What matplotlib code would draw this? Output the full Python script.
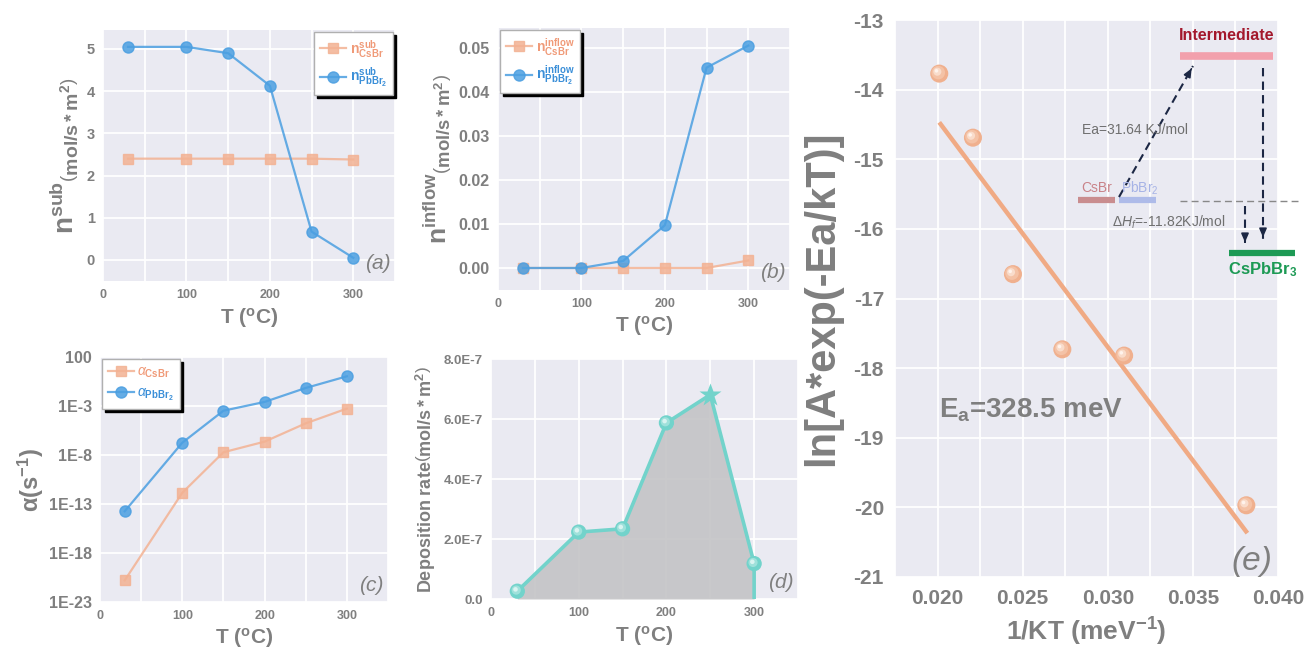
import numpy as np
import matplotlib
matplotlib.use("Agg")
import matplotlib.pyplot as plt
from matplotlib.transforms import offset_copy
from matplotlib.ticker import MultipleLocator, FuncFormatter, FixedLocator

# ---------------- data ----------------
T = [30, 100, 150, 200, 250, 300]
n_sub_CsBr = [2.40, 2.40, 2.40, 2.40, 2.40, 2.38]
n_sub_PbBr2 = [5.05, 5.05, 4.90, 4.13, 0.67, 0.05]
n_inflow_CsBr = [0.0, 0.0, 0.0, 0.0, 0.0, 0.0017]
n_inflow_PbBr2 = [0.0, 0.0, 0.0016, 0.0097, 0.0455, 0.0505]
alpha_CsBr = [1.6e-21, 1.4e-12, 1.9e-8, 2.3e-7, 1.7e-5, 5.4e-4]
alpha_PbBr2 = [1.8e-14, 1.8e-7, 3.3e-4, 2.6e-3, 6.9e-2, 1.07]
dep_rate = [2.6e-8, 2.23e-7, 2.34e-7, 5.87e-7, 6.81e-7, 1.18e-7]
inv_kT = [0.0201, 0.02208, 0.02443, 0.02733, 0.03096, 0.03814]
ln_rate = [-13.77, -14.69, -16.65, -17.73, -17.82, -19.97]
fit_x = [0.0201, 0.0382]
fit_y = [-14.47, -20.37]
alpha_ticks = [1e-23, 1e-18, 1e-13, 1e-8, 1e-3, 1e2]
alpha_ticklabels = ["1E-23", "1E-18", "1E-13", "1E-8", "1E-3", "100"]
dep_ticks = [0, 2e-7, 4e-7, 6e-7, 8e-7]
dep_ticklabels = ["0.0", "2.0E-7", "4.0E-7", "6.0E-7", "8.0E-7"]

# ---------------- style ----------------
plt.rcParams['font.family'] = ['Liberation Sans', 'DejaVu Sans']
plt.rcParams['mathtext.fontset'] = 'custom'
plt.rcParams['mathtext.rm'] = 'Liberation Sans'
plt.rcParams['mathtext.bf'] = 'Liberation Sans:bold'
plt.rcParams['mathtext.it'] = 'Liberation Sans:italic'
plt.rcParams['mathtext.sf'] = 'Liberation Sans'

GRAY = '#7f7f7f'
BG = '#eaeaf2'
ORANGE = '#f3b293'
ORANGE_T = '#f09a78'
BLUE = '#4b9fe1'
BLUE_T = '#3b8fd8'
TEAL = '#72d3cb'
SALMON = '#f0aa84'

W, H = 1306, 653
fig = plt.figure(figsize=(W / 100, H / 100), dpi=100)


def add_ax(l, r, t, b):
    return fig.add_axes([l / W, 1 - b / H, (r - l) / W, (b - t) / H])


def style(ax, xtick_size=9, ytick_size=10.5):
    ax.set_facecolor(BG)
    for s in ax.spines.values():
        s.set_visible(False)
    ax.grid(True, which='both', color='white', lw=1.3)
    ax.set_axisbelow(True)
    ax.tick_params(which='both', length=0, colors=GRAY)
    ax.tick_params(axis='x', labelsize=xtick_size, pad=6)
    ax.tick_params(axis='y', labelsize=ytick_size, pad=6)
    for lab in ax.get_xticklabels() + ax.get_yticklabels():
        lab.set_fontweight('bold')


def temp_xaxis(ax):
    ax.set_xlim(0, 350)
    ax.xaxis.set_major_locator(MultipleLocator(50))
    ax.xaxis.set_major_formatter(FuncFormatter(lambda v, p: f"{int(round(v))}" if round(v) % 100 == 0 and v < 349 else ""))
    ax.set_xlabel(r'T ($^{\mathbf{o}}$C)', fontsize=15, fontweight='bold', color=GRAY, labelpad=3)


def panel_label(ax, s, size=15, y=0.03):
    ax.text(0.985, y, s, transform=ax.transAxes, ha='right', va='bottom',
            fontsize=size, style='italic', color=GRAY)


def sphere(ax, x, y, size, base, layers, zorder=4):
    ax.scatter(x, y, s=size ** 2, color=base, zorder=zorder, edgecolors='none')
    for i, (frac, col, off) in enumerate(layers):
        tr = offset_copy(ax.transData, fig=fig, x=-off, y=off, units='points')
        ax.scatter(x, y, s=(size * frac) ** 2, color=col, zorder=zorder + 1 + i,
                   edgecolors='none', transform=tr)


def legend(ax, loc):
    leg = ax.legend(loc=loc, frameon=True, fancybox=False, framealpha=1,
                    edgecolor='#b0b0b0', shadow={'color': 'black', 'alpha': 1},
                    handlelength=1.9, borderpad=0.4, labelspacing=0.45, handletextpad=0.25,
                    borderaxespad=0.15, fontsize=10)
    cols = [ORANGE_T, BLUE_T]
    for t, c in zip(leg.get_texts(), cols):
        t.set_color(c)
    return leg


# ---------------- (a) ----------------
ax = add_ax(103, 395, 30, 281)
ax.plot(T, n_sub_CsBr, '-s', color=ORANGE, ms=6.5, lw=1.6, alpha=0.85,
        label=r'$\mathbf{n}^{\mathbf{sub}}_{\mathbf{CsBr}}$')
ax.plot(T, n_sub_PbBr2, '-o', color=BLUE, ms=8, lw=1.6, alpha=0.85,
        label=r'$\mathbf{n}^{\mathbf{sub}}_{\mathbf{PbBr_2}}$')
ax.set_ylim(-0.5, 5.45)
ax.yaxis.set_major_locator(MultipleLocator(1))
temp_xaxis(ax)
style(ax)
ax.set_ylabel(r'$\mathbf{n}^{\mathbf{sub}}\left(_{\mathbf{mol/s*m^{2}}}\right)$', fontsize=20,
              color=GRAY, labelpad=4)
legend(ax, 'upper right')
panel_label(ax, '(a)')

# ---------------- (b) ----------------
ax = add_ax(498, 790, 28, 290)
ax.plot(T, n_inflow_CsBr, '-s', color=ORANGE, ms=6.5, lw=1.6, alpha=0.85,
        label=r'$\mathbf{n}^{\mathbf{inflow}}_{\mathbf{CsBr}}$')
ax.plot(T, n_inflow_PbBr2, '-o', color=BLUE, ms=8, lw=1.6, alpha=0.85,
        label=r'$\mathbf{n}^{\mathbf{inflow}}_{\mathbf{PbBr_2}}$')
ax.set_ylim(-0.005, 0.0545)
ax.yaxis.set_major_locator(MultipleLocator(0.01))
ax.yaxis.set_major_formatter(FuncFormatter(lambda v, p: f"{v:.2f}"))
temp_xaxis(ax)
style(ax, ytick_size=11.5)
ax.set_ylabel(r'$\mathbf{n}^{\mathbf{inflow}}\left(_{\mathbf{mol/s*m^{2}}}\right)$', fontsize=19,
              color=GRAY, labelpad=4)
legend(ax, 'upper left')
panel_label(ax, '(b)')

# ---------------- (c) ----------------
ax = add_ax(100, 388, 357, 602)
ax.plot(T, alpha_CsBr, '-s', color=ORANGE, ms=6.5, lw=1.6, alpha=0.85,
        label=r'$\alpha_{\mathbf{CsBr}}$')
ax.plot(T, alpha_PbBr2, '-o', color=BLUE, ms=8, lw=1.6, alpha=0.85,
        label=r'$\alpha_{\mathbf{PbBr_2}}$')
ax.set_yscale('log')
ax.set_ylim(1e-23, 1e2)
ax.yaxis.set_minor_locator(FixedLocator([]))
temp_xaxis(ax)
ax.set_yticks(alpha_ticks)
ax.set_yticklabels(alpha_ticklabels)
style(ax, ytick_size=11.5)
ax.set_ylabel('α(s$^{\\mathbf{-1}}$)', fontsize=17, fontweight='bold', color=GRAY, labelpad=2)
legend(ax, 'upper left')
panel_label(ax, '(c)')

# ---------------- (d) ----------------
ax = add_ax(491, 798, 359, 599)
ax.fill_between(T, dep_rate, 0, color='#c4c4c6', alpha=0.9, zorder=2, lw=0)
ax.plot(T + [T[-1]], dep_rate + [0], '-', color=TEAL, lw=2.6, zorder=3)
sphere(ax, T[:-2], dep_rate[:-2], 11, TEAL,
       [(0.6, '#9fe1db', 0.8), (0.3, '#d9f4f1', 1.3)])
sphere(ax, T[-1:], dep_rate[-1:], 11, TEAL,
       [(0.6, '#9fe1db', 0.8), (0.3, '#d9f4f1', 1.3)])
ax.plot(T[-2:-1], dep_rate[-2:-1], '*', color=TEAL, ms=17, zorder=6, mec='none')
ax.set_ylim(0, 8e-7)
ax.set_yticks(dep_ticks)
ax.set_yticklabels(dep_ticklabels)
temp_xaxis(ax)
style(ax, ytick_size=9.5)
ax.set_ylabel(r'$\mathbf{Deposition\ rate}\left(\mathbf{mol/s*m^{2}}\right)$', fontsize=13,
              color=GRAY, labelpad=4)
panel_label(ax, '(d)')

# ---------------- (e) ----------------
ax = add_ax(895, 1278, 20, 577)
ax.plot(fit_x, fit_y, '-', color=SALMON, lw=3.2, zorder=3, solid_capstyle='butt')
sphere(ax, inv_kT, ln_rate, 13, '#f0b08e',
       [(0.75, '#f4c2a6', 0.7), (0.45, '#f9dccb', 1.4), (0.2, '#fff3ec', 2.0)])
ax.set_xlim(0.0175, 0.0400)
ax.set_ylim(-21, -13)
ax.xaxis.set_major_locator(MultipleLocator(0.0025))
ax.xaxis.set_major_formatter(FuncFormatter(lambda v, p: f"{v:.3f}" if abs(round(v / 0.005) * 0.005 - v) < 1e-6 else ""))
ax.yaxis.set_major_locator(MultipleLocator(1))
ax.yaxis.set_major_formatter(FuncFormatter(lambda v, p: f"{int(round(v))}"))
style(ax, xtick_size=15, ytick_size=15)
ax.tick_params(axis='x', pad=9)
ax.tick_params(axis='y', pad=8)
ax.set_xlabel(r'1/KT (meV$^{\mathbf{-1}}$)', fontsize=19, fontweight='bold', color=GRAY, labelpad=5)
ax.set_ylabel('ln[A*exp(-Ea/kT)]', fontsize=30, fontweight='bold', color=GRAY, labelpad=8)
ax.text(0.0201, -18.6, r'E$_\mathbf{a}$=328.5 meV', fontsize=20, fontweight='bold', color=GRAY,
        ha='left', va='center')
panel_label(ax, '(e)', size=24, y=0.0)

# ---------------- inset energy diagram ----------------
ins = fig.add_axes([1076 / W, 1 - 285 / H, (W - 1076) / W, 285 / H])
ins.set_xlim(1076, W)
ins.set_ylim(285, 0)
ins.axis('off')
ins.patch.set_visible(True)
ins.patch.set_facecolor('white')

NAVY = '#1c2744'
# energy levels
ins.plot([1180, 1273], [55.5, 55.5], color='#f2a0ac', lw=5.5, solid_capstyle='butt')
ins.plot([1078, 1115], [200, 200], color='#c98d8f', lw=4.5, solid_capstyle='butt')
ins.plot([1119, 1156], [200, 200], color='#aebbe9', lw=4.5, solid_capstyle='butt')
ins.plot([1229, 1295], [253, 253], color='#1d9a55', lw=4.5, solid_capstyle='butt')
ins.plot([1180, 1298], [201, 201], color='#888888', lw=1.0, ls=(0, (5, 3)))
# dashed arrows
for (x0, y0, x1, y1) in [(1119, 197, 1193, 66), (1263, 68, 1263, 240), (1245, 206, 1245, 245)]:
    ins.plot([x0, x1], [y0, y1], color=NAVY, lw=1.5, ls=(0, (4, 2.5)))
    dx, dy = x1 - x0, y1 - y0
    L = np.hypot(dx, dy)
    ins.annotate('', xy=(x1, y1), xytext=(x1 - dx / L * 6, y1 - dy / L * 6),
                 arrowprops=dict(arrowstyle='-|>,head_length=0.5,head_width=0.22', color=NAVY, lw=1.2))
ins.text(1227, 35, 'Intermediate', color='#a3182c', fontsize=11.5, fontweight='bold', ha='center', va='center')
ins.text(1082, 130, 'Ea=31.64 KJ/mol', color='#6f6f6f', fontsize=10, ha='left', va='center')
ins.text(1081, 188, 'CsBr', color='#c98288', fontsize=10, ha='left', va='center')
ins.text(1121, 188, r'PbBr$_2$', color='#a6b3e6', fontsize=10, ha='left', va='center')
ins.text(1112, 222, r'$\Delta\mathit{H_f}$=-11.82KJ/mol', color='#6f6f6f', fontsize=10, ha='left', va='center')
ins.text(1263, 270, r'CsPbBr$_\mathbf{3}$', color='#1d9a55', fontsize=12, fontweight='bold', ha='center', va='center')

fig.savefig('out.png', dpi=100, facecolor='white')
